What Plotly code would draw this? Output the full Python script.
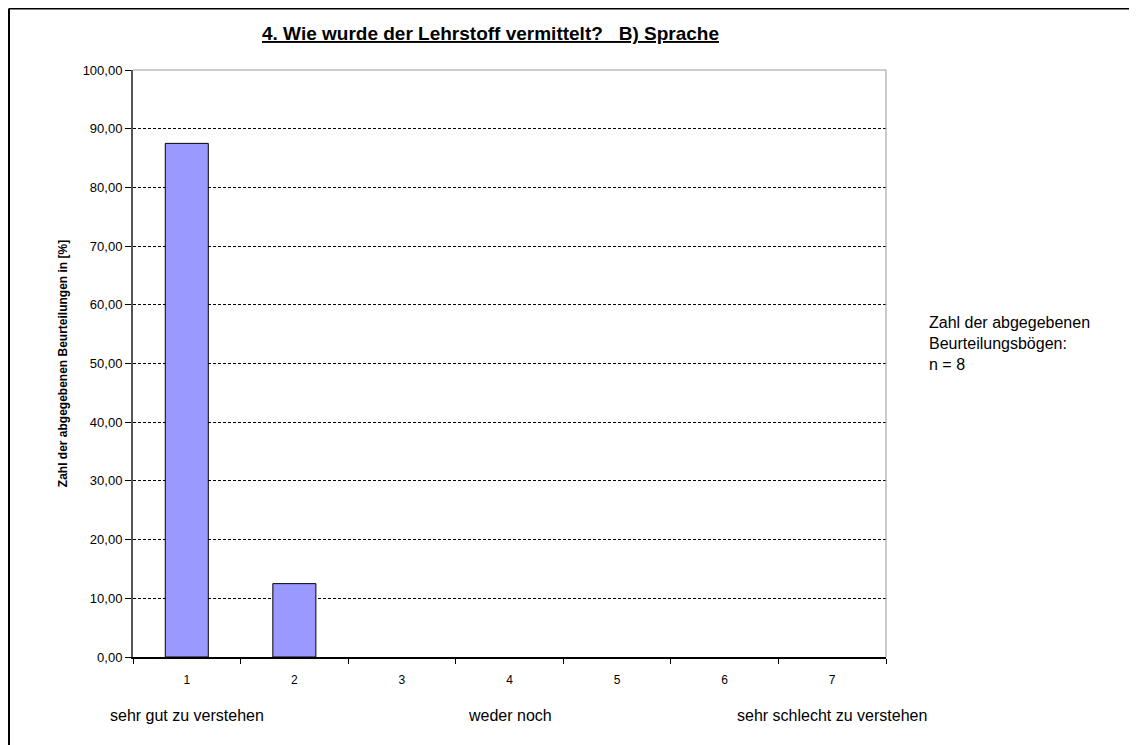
import plotly.graph_objects as go

categories = [1, 2, 3, 4, 5, 6, 7]
values = [87.5, 12.5, 0, 0, 0, 0, 0]
y_tickvals = [0, 10, 20, 30, 40, 50, 60, 70, 80, 90, 100]
y_ticktext = ["0,00", "10,00", "20,00", "30,00", "40,00", "50,00", "60,00", "70,00", "80,00", "90,00", "100,00"]
x_ticktext = ["1", "2", "3", "4", "5", "6", "7"]
scale_labels = ["sehr gut zu verstehen", "weder noch", "sehr schlecht zu verstehen"]
scale_positions = [1, 4, 7]

title_text = "4. Wie wurde der Lehrstoff vermittelt?   B) Sprache"
y_title = "Zahl der abgegebenen Beurteilungen in [%]"
note_text = "Zahl der abgegebenen<br>Beurteilungsbögen:<br>n = 8"

FONT = "Liberation Sans, Arial, sans-serif"

# plot area size (pixels)
PW, PH = 753, 587

fig = go.Figure()
fig.add_trace(go.Bar(
    x=categories, y=values, width=0.4,
    marker=dict(color="#9999FF",
                line=dict(color="black", width=[1 if v > 0 else 0 for v in values])),
    hoverinfo="skip",
))

fig.update_layout(
    width=1129, height=737,
    margin=dict(l=125, r=251, t=62, b=88),
    paper_bgcolor="white", plot_bgcolor="white",
    showlegend=False,
    font=dict(family=FONT, color="black", size=11),
    xaxis=dict(
        range=[0.5, 7.5], tickmode="array", tickvals=categories, ticktext=x_ticktext,
        ticks="", showgrid=False, zeroline=False,
        showline=True, linecolor="black", linewidth=2,
        tickfont=dict(size=12, family=FONT),
        ticklabelstandoff=11,
        minor=dict(tickmode="linear", tick0=0.5, dtick=1, ticks="outside", ticklen=5,
                   tickcolor="black", tickwidth=1, showgrid=False),
    ),
    yaxis=dict(
        range=[0, 100], tickmode="array", tickvals=y_tickvals, ticktext=y_ticktext,
        ticks="outside", ticklen=6, tickcolor="black",
        showgrid=True, gridcolor="black", griddash="3px,2px", gridwidth=1,
        zeroline=False, showline=True, linecolor="#555555", linewidth=2,
        tickfont=dict(size=13, family=FONT),
        title=dict(text=y_title, font=dict(size=12, family=FONT, weight="bold"), standoff=12),
    ),
)

# plot area border (top and right) in gray
fig.add_shape(type="line", xref="paper", yref="paper", x0=0, x1=1, y0=1, y1=1,
              line=dict(color="#999999", width=1), layer="above")
fig.add_shape(type="line", xref="paper", yref="paper", x0=1, x1=1, y0=0, y1=1,
              line=dict(color="#999999", width=1), layer="above")

# outer chart frame (top and left visible)
fx = -124 / PW
fy = 1 + 61.5 / PH
fig.add_shape(type="line", xref="paper", yref="paper",
              x0=fx, x1=1.5, y0=fy, y1=fy, line=dict(color="black", width=2))
fig.add_shape(type="line", xref="paper", yref="paper",
              x0=fx, x1=fx, y0=-0.3, y1=fy, line=dict(color="black", width=2))

fig.add_annotation(text="<b><u>" + title_text + "</u></b>", xref="paper", yref="paper",
                   x=(490 - 133) / PW, y=1 + 37 / PH, xanchor="center", yanchor="middle",
                   showarrow=False, font=dict(size=19, family=FONT))

for lab, pos in zip(scale_labels, scale_positions):
    fig.add_annotation(text=lab, x=pos, xref="x", yref="paper", y=-58 / PH,
                       xanchor="center", yanchor="middle", showarrow=False,
                       font=dict(size=16, family=FONT))

fig.add_annotation(text=note_text, xref="paper", yref="paper",
                   x=(927 - 133) / PW, y=(657 - 312) / PH, xanchor="left", yanchor="top",
                   align="left", showarrow=False, font=dict(size=16, family=FONT))

fig.write_html("out.html")
